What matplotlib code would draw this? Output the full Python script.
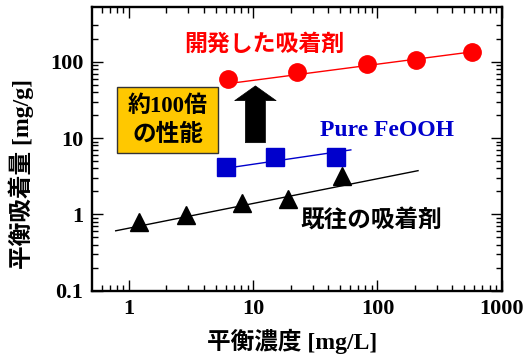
import matplotlib
matplotlib.use("Agg")
import matplotlib.pyplot as plt
from matplotlib.patches import Rectangle
from matplotlib.ticker import FixedLocator, NullFormatter

plt.rcParams['font.family'] = ['Liberation Serif', 'Noto Sans CJK JP']
plt.rcParams['font.weight'] = 'bold'
plt.rcParams['axes.labelweight'] = 'bold'

# Adsorption isotherm data: equilibrium concentration [mg/L] vs adsorbed amount [mg/g]
new_x = [6.3, 22.5, 83, 205, 580]
new_y = [59, 73.5, 92, 106, 136]
new_fit_x = [7.2, 580]
new_fit_y = [53.2, 134.8]

feooh_x = [6.05, 14.9, 46.2]
feooh_y = [4.14, 5.6, 5.6]
feooh_fit_x = [7.2, 61]
feooh_fit_y = [4.2, 7.0]

old_x = [1.2, 2.85, 8.13, 19.2, 52.2]
old_y = [0.787, 0.99, 1.39, 1.57, 3.17]
old_fit_x = [0.78, 212]
old_fit_y = [0.61, 3.74]

x_ticks = [1, 10, 100, 1000]
x_tick_labels = ['1', '10', '100', '1000']
y_ticks = [0.1, 1, 10, 100]
y_tick_labels = ['0.1', '1', '10', '100']

fig = plt.figure(figsize=(5.27, 3.55), dpi=100)
ax = fig.add_axes([0.174, 0.181, 0.778, 0.800])
ax.set_xscale('log')
ax.set_yscale('log')
ax.set_xlim(0.5, 1000)
ax.set_ylim(0.1, 525)

red = '#FF0000'
blue = '#0000CC'

ax.plot(new_fit_x, new_fit_y, color=red, lw=1.0, zorder=2)
ax.plot(new_x, new_y, 'o', color=red, ms=12.5, mec=red, zorder=3)

ax.plot(feooh_fit_x, feooh_fit_y, color=blue, lw=1.0, zorder=2)
ax.plot(feooh_x, feooh_y, 's', color=blue, ms=13, mec=blue, zorder=3)

ax.plot(old_fit_x, old_fit_y, color='black', lw=1.0, zorder=2)
ax.plot(old_x, old_y, '^', color='black', ms=12.5, mec='black', zorder=3)

# Series labels
ax.text(12.3, 166, '開発した吸着剤', color=red, fontsize=16.5,
        ha='center', va='center')
ax.text(120, 12.4, 'Pure FeOOH', color=blue, fontsize=17,
        ha='center', va='center')
ax.text(89, 0.845, '既往の吸着剤', color='black', fontsize=17,
        ha='center', va='center')

# Improvement callout
ax.add_patch(Rectangle((0.061, 0.484), 0.248, 0.232, transform=ax.transAxes,
                       facecolor='#FFC800', edgecolor='#333333', lw=1.0,
                       zorder=4))
ax.text(0.185, 0.648, '約100倍', transform=ax.transAxes, fontsize=16.5,
        ha='center', va='center', zorder=5)
ax.text(0.185, 0.548, 'の性能', transform=ax.transAxes, fontsize=17,
        ha='center', va='center', zorder=5)
ax.annotate('', xy=(10.4, 48.2), xytext=(10.4, 8.7),
            arrowprops=dict(arrowstyle='simple,head_length=0.53,head_width=1.49,tail_width=0.72',
                            mutation_scale=20, fc='black', ec='black', lw=0.5,
                            shrinkA=0, shrinkB=0), zorder=4)

# Axes styling
for s in ax.spines.values():
    s.set_linewidth(1.7)
ax.set_xticks(x_ticks)
ax.set_xticklabels(x_tick_labels)
ax.set_yticks(y_ticks)
ax.set_yticklabels(y_tick_labels)
ax.xaxis.set_minor_locator(FixedLocator(
    [m * 10.0 ** e for e in range(-1, 3) for m in range(2, 10) if 0.5 < m * 10.0 ** e < 1000]))
ax.yaxis.set_minor_locator(FixedLocator(
    [m * 10.0 ** e for e in range(-1, 3) for m in range(2, 10) if m * 10.0 ** e <= 300]))
ax.xaxis.set_minor_formatter(NullFormatter())
ax.yaxis.set_minor_formatter(NullFormatter())
ax.tick_params(which='both', direction='in', top=True, right=True, labelsize=16)
ax.tick_params(which='major', length=8, width=1.0)
ax.tick_params(which='minor', length=4.5, width=1.0)
ax.tick_params(axis='x', pad=6)
ax.tick_params(axis='y', pad=6)

ax.set_xlabel('平衡濃度 [mg/L]', fontsize=17, fontweight='bold')
ax.set_ylabel('平衡吸着量 [mg/g]', fontsize=17, fontweight='bold')
ax.xaxis.set_label_coords(0.4885, -0.135)
ax.yaxis.set_label_coords(-0.141, 0.41)

fig.savefig('out.png', dpi=100)
